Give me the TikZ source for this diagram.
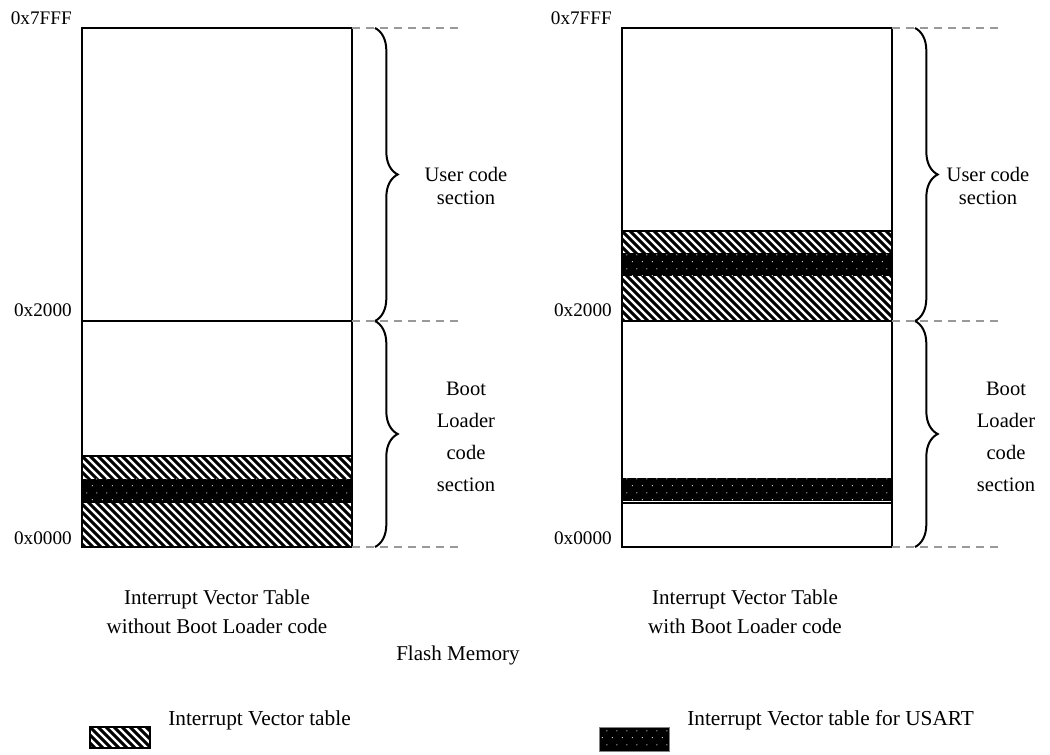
\documentclass[tikz,border=0pt]{standalone}
\usepackage{fontspec}
\setmainfont{Liberation Serif}
\usetikzlibrary{patterns.meta,decorations.pathreplacing}

% light dots on a dark ground, staggered rows
\pgfdeclarepattern{
  name=usartdots,
  type=uncolored,
  bottom left={\pgfpointorigin},
  top right={\pgfqpoint{7.5pt}{10.5pt}},
  tile size={\pgfqpoint{7.5pt}{10.5pt}},
  code={
    \pgfpathcircle{\pgfqpoint{1.875pt}{2.625pt}}{0.5pt}
    \pgfpathcircle{\pgfqpoint{5.625pt}{7.875pt}}{0.5pt}
    \pgfusepath{fill}
  }
}

\begin{document}
\begin{tikzpicture}[x=0.75pt,y=-0.75pt,
  membox/.style={line width=1.5pt},
  addr/.style={font=\fontsize{14.4}{17}\selectfont, anchor=base east, inner sep=0pt},
  sect/.style={font=\fontsize{15.4}{17.5}\selectfont, align=center, inner sep=0pt},
  bootsect/.style={font=\fontsize{15.4}{24}\selectfont, align=center, inner sep=0pt},
  caption/.style={font=\fontsize{15.8}{22}\selectfont, align=center, inner sep=0pt},
  legendtext/.style={font=\fontsize{16}{19}\selectfont, anchor=base west, inner sep=0pt},
  guide/.style={color=gray!80, line width=1.5pt, dash pattern=on 6pt off 4.5pt},
  span/.style={decorate, decoration={brace, amplitude=17pt}, line width=1.5pt},
  % diagonal hatching, clipped to the region
  ivt/.style={path picture={
    \foreach \k in {-16,...,38}
      \draw[line width=2.2pt]
        ([xshift=\k*6pt]path picture bounding box.north west) -- ++(90pt,-90pt);
  }},
  usart/.style={fill=black, postaction={pattern=usartdots, pattern color=gray!25}},
]
\useasboundingbox (0,0) rectangle (1050,755);

% ---------- left column: without boot loader ----------
\coordinate (L-top) at (82,28);
\coordinate (L-mid) at (82,321);
\coordinate (L-bot) at (82,547);
\coordinate (L-topR) at (352,28);
\coordinate (L-midR) at (352,321);
\coordinate (L-botR) at (352,547);

\path[ivt] (82,456) rectangle (352,547);
\fill[usart] (82,479) rectangle (352,503);
\draw[membox] (82,456) rectangle (352,547);
\draw[membox] (L-top) rectangle (L-botR);
\draw[membox] (L-mid) -- (L-midR);

% ---------- right column: with boot loader ----------
\coordinate (R-top) at (622,28);
\coordinate (R-mid) at (622,321);
\coordinate (R-bot) at (622,547);
\coordinate (R-topR) at (892,28);
\coordinate (R-midR) at (892,321);
\coordinate (R-botR) at (892,547);

\path[ivt] (622,231) rectangle (892,321);
\fill[usart] (622,253) rectangle (892,276);
\draw[membox] (622,231) rectangle (892,321);
\fill[usart] (622,478) rectangle (892,501);
\draw[membox] (622,503.5) -- (892,503.5);
\draw[membox] (R-top) rectangle (R-botR);
\draw[membox] (R-mid) -- (R-midR);

% ---------- address labels ----------
\node[addr] (aL7) at (72,25) {0x7FFF};
\node[addr] (aL2) at (72,317) {0x2000};
\node[addr] (aL0) at (72,544) {0x0000};
\node[addr] (aR7) at (612,25) {0x7FFF};
\node[addr] (aR2) at (612,317) {0x2000};
\node[addr] (aR0) at (612,544) {0x0000};

% ---------- guide lines ----------
\coordinate (gL7) at (464,28);
\coordinate (gL2) at (464,321);
\coordinate (gL0) at (464,547);
\coordinate (gR7) at (1004,28);
\coordinate (gR2) at (1004,321);
\coordinate (gR0) at (1004,547);
\draw[guide] (L-topR) -- (gL7);
\draw[guide] (L-midR) -- (gL2);
\draw[guide] (L-botR) -- (gL0);
\draw[guide] (R-topR) -- (gR7);
\draw[guide] (R-midR) -- (gR2);
\draw[guide] (R-botR) -- (gR0);

% ---------- braces ----------
\coordinate (bL7) at (375,28);
\coordinate (bL2) at (375,321);
\coordinate (bL0) at (375,547);
\coordinate (bR7) at (915,28);
\coordinate (bR2) at (915,321);
\coordinate (bR0) at (915,547);
\draw[span] (bL7) -- (bL2);
\draw[span] (bL2) -- (bL0);
\draw[span] (bR7) -- (bR2);
\draw[span] (bR2) -- (bR0);

\node[sect] (userL) at (466,186) {User code\\section};
\node[bootsect] (bootL) at (466,437) {Boot\\Loader\\code\\section};
\node[sect] (userR) at (988,186) {User code\\section};
\node[bootsect] (bootR) at (1006,437) {Boot\\Loader\\code\\section};

% ---------- captions ----------
\node[caption] (capL) at (217,612) {Interrupt Vector Table\\without Boot Loader code};
\node[caption] (capR) at (745,612) {Interrupt Vector Table\\with Boot Loader code};
\node[caption, anchor=base] (flash) at (458,660) {Flash Memory};

% ---------- legend ----------
\path[ivt] (90,727) rectangle (150,748);
\draw[line width=1pt] (90,727) rectangle (150,748);
\node[legendtext] (legIvt) at (168,725) {Interrupt Vector table};

\fill[usart] (599,727) rectangle (669,751);
\draw[line width=0.6pt, gray] (599,727) rectangle (669,751);
\node[legendtext] (legUsart) at (687,725) {Interrupt Vector table for USART};
\end{tikzpicture}
\end{document}
